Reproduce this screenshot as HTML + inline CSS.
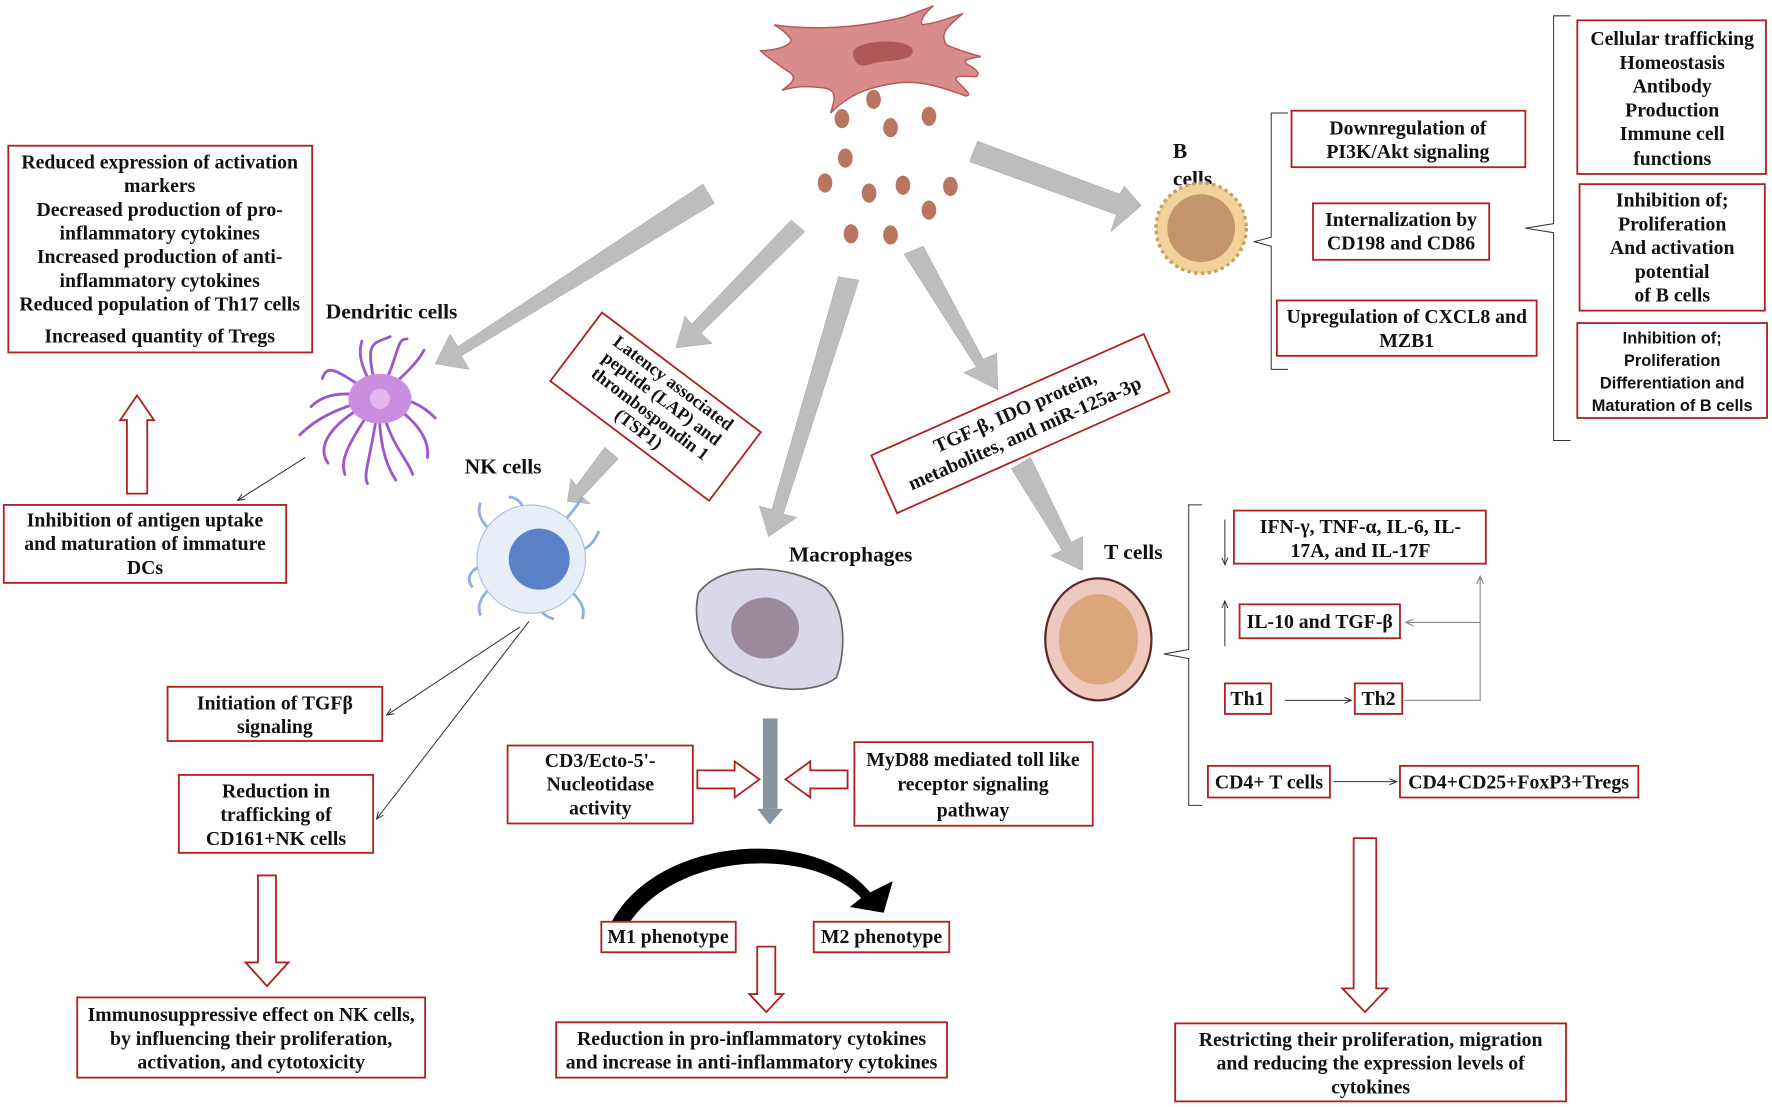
<!DOCTYPE html>
<html><head><meta charset="utf-8"><style>
html,body{margin:0;padding:0;background:#fff;}
svg{display:block;}
text{font-family:"Liberation Serif",serif;font-weight:bold;font-size:17.5px;fill:#111;}
.b{fill:#fff;stroke:#b02020;stroke-width:1.6;}
.g{fill:#bdbdbd;stroke:#aaa;stroke-width:0.5;}
.h{fill:#fff;stroke:#b02020;stroke-width:1.6;}
.t{stroke:#333;stroke-width:0.9;fill:none;}
.lbl{font-size:19px;}
.sm{font-size:16px;}
.sans{font-family:"Liberation Sans",sans-serif;font-size:14.5px;}
</style></head><body>
<svg width="1772" height="1107" viewBox="0 0 1568 980" xmlns="http://www.w3.org/2000/svg">
<defs>
<marker id="a" markerWidth="8" markerHeight="8" refX="7" refY="4" orient="auto"><path d="M0,1 L7,4 L0,7" fill="none" stroke="#333" stroke-width="1"/></marker>
<marker id="ag" markerWidth="8" markerHeight="8" refX="7" refY="4" orient="auto"><path d="M0,1 L7,4 L0,7" fill="none" stroke="#888" stroke-width="1"/></marker>
</defs>

<!-- fibroblast -->
<path d="M673,45 C690,44 700,40 700,35 C695,28 690,25 685,22 C720,27 760,25 800,15 C812,10 820,8 826,5 C818,12 814,18 816,22 C830,20 840,16 852,12 C840,22 830,30 838,40 C850,45 860,48 868,50 C855,52 850,54 858,58 C865,62 868,66 863,68 C850,67 840,66 850,75 C855,80 860,84 855,85 C835,78 815,70 790,74 C765,78 750,85 735,100 C738,90 742,80 730,78 C715,76 705,76 692,80 C700,74 705,70 700,65 C690,58 680,52 673,45 Z" fill="#d98c8c" stroke="#b85858" stroke-width="1.3"/>
<path d="M755,50 C752,40 770,36 790,37 C805,38 812,44 805,50 C795,55 780,53 770,57 C760,60 757,56 755,50 Z" fill="#b05858"/>
<g fill="#b87560">
<ellipse cx="773" cy="88" rx="6.5" ry="8.5"/><ellipse cx="745" cy="105" rx="6.5" ry="8.5"/><ellipse cx="788" cy="113" rx="6.5" ry="8.5"/><ellipse cx="822" cy="103" rx="6.5" ry="8.5"/>
<ellipse cx="748" cy="140" rx="6.5" ry="8.5"/><ellipse cx="730" cy="162" rx="6.5" ry="8.5"/><ellipse cx="769" cy="171" rx="6.5" ry="8.5"/><ellipse cx="799" cy="164" rx="6.5" ry="8.5"/><ellipse cx="841" cy="165" rx="6.5" ry="8.5"/><ellipse cx="822" cy="186" rx="6.5" ry="8.5"/><ellipse cx="753" cy="207" rx="6.5" ry="8.5"/><ellipse cx="788" cy="208" rx="6.5" ry="8.5"/>
</g>

<!-- gray arrows -->
<g class="g">
<path d="M622,163 L632,180 L408,315 L415,327 L385,322 L398,296 L405,307 Z"/>
<path d="M700,195 L712,205 L620,295 L630,304 L598,308 L606,280 L612,287 Z"/>
<path d="M742,245 L760,248 L693,455 L705,458 L680,475 L672,448 L683,451 Z"/>
<path d="M800,225 L817,218 L870,318 L882,313 L883,345 L853,330 L864,325 Z"/>
<path d="M865,125 L858,143 L988,190 L983,205 L1010,182 L995,165 L991,172 Z"/>
<path d="M535,396 L547,406 L515,440 L522,446 L502,444 L505,424 L510,430 Z"/>
<path d="M895,415 L912,405 L948,480 L958,475 L958,505 L930,492 L940,487 Z"/>
</g>

<!-- top left box -->
<rect class="b" x="7" y="129" width="269" height="183"/>
<g text-anchor="middle">
<text x="141" y="149">Reduced expression of activation</text>
<text x="141" y="170">markers</text>
<text x="141" y="191">Decreased production of pro-</text>
<text x="141" y="212">inflammatory cytokines</text>
<text x="141" y="233">Increased production of anti-</text>
<text x="141" y="254">inflammatory cytokines</text>
<text x="141" y="275">Reduced population of Th17 cells</text>
<text x="141" y="303">Increased quantity of Tregs</text>
</g>
<text class="lbl" x="288" y="282">Dendritic cells</text>
<path class="h" d="M112,437 L112,372 L106,372 L121,350 L136,372 L130,372 L130,437 Z"/>
<rect class="b" x="3" y="447" width="250" height="69"/>
<g text-anchor="middle"><text x="128" y="466">Inhibition of antigen uptake</text><text x="128" y="487">and maturation of immature</text><text x="128" y="508">DCs</text></g>
<line class="t" x1="270" y1="405" x2="210" y2="443" marker-end="url(#a)"/>

<!-- dendritic cell -->
<g stroke="#9a58c8" stroke-width="2.5" fill="none" stroke-linecap="round">
<path d="M335,352 C320,300 330,305 345,298"/><path d="M335,352 C360,330 370,320 375,310"/><path d="M335,352 C300,360 280,370 265,385"/><path d="M335,352 C310,390 300,405 305,420"/><path d="M335,352 C335,390 340,410 350,425"/><path d="M335,352 C370,370 380,390 378,405"/><path d="M335,352 C300,330 290,320 285,335"/><path d="M335,352 C330,400 320,420 325,428"/><path d="M335,352 C355,310 350,300 360,300"/><path d="M335,352 C290,375 280,395 290,410"/>
<path d="M335,352 C300,345 285,350 275,360"/><path d="M335,352 C345,395 360,405 365,420"/><path d="M335,352 C360,350 375,360 385,370"/><path d="M335,352 C315,320 318,310 320,302"/>
</g>
<ellipse cx="336" cy="353" rx="28" ry="22" fill="#c98ee0"/>
<circle cx="336" cy="353" r="9" fill="#e2b6f2"/>

<!-- LAP rotated box -->
<g transform="translate(580,360) rotate(37)">
<rect class="b" x="-88" y="-38" width="176" height="76"/>
<g text-anchor="middle" class="sm"><text class="sm" x="0" y="-21">Latency associated</text><text class="sm" x="0" y="-4">peptide (LAP) and</text><text class="sm" x="0" y="13">thrombospondin 1</text><text class="sm" x="0" y="30">(TSP1)</text></g>
</g>
<!-- TGF rotated box -->
<g transform="translate(903,375) rotate(-24)">
<rect class="b" x="-132" y="-28" width="264" height="56"/>
<g text-anchor="middle"><text x="0" y="-6">TGF-β, IDO protein,</text><text x="0" y="15">metabolites, and miR-125a-3p</text></g>
</g>

<!-- NK -->
<text class="lbl" x="411" y="419">NK cells</text>
<g stroke="#8fb0d8" stroke-width="2.5" fill="none">
<path d="M470,495 C430,470 420,460 425,445"/><path d="M470,495 C500,460 510,450 515,440"/><path d="M470,495 C430,520 420,530 425,545"/><path d="M470,495 C510,525 520,535 515,548"/><path d="M470,495 C470,450 460,440 450,440"/><path d="M470,495 C520,495 525,480 530,470"/><path d="M470,495 C415,495 410,510 418,520"/><path d="M470,495 C470,540 480,545 490,548"/>
</g>
<circle cx="470" cy="495" r="48" fill="#e8eef8" stroke="#a8c0e0"/>
<circle cx="477" cy="495" r="27" fill="#5a80c8"/>
<line class="t" x1="460" y1="555" x2="342" y2="633" marker-end="url(#a)"/>
<line class="t" x1="468" y1="550" x2="333" y2="725" marker-end="url(#a)"/>
<rect class="b" x="148" y="608" width="190" height="48"/>
<g text-anchor="middle"><text x="243" y="628">Initiation of  TGFβ</text><text x="243" y="649">signaling</text></g>
<rect class="b" x="158" y="686" width="172" height="69"/>
<g text-anchor="middle"><text x="244" y="706">Reduction in</text><text x="244" y="727">trafficking of</text><text x="244" y="748">CD161+NK cells</text></g>
<path class="h" d="M228,775 L228,852 L217,852 L236,873 L255,852 L244,852 L244,775 Z"/>
<rect class="b" x="68" y="883" width="308" height="71"/>
<g text-anchor="middle"><text x="222" y="904">Immunosuppressive effect on NK cells,</text><text x="222" y="925">by influencing their proliferation,</text><text x="222" y="946">activation, and cytotoxicity</text></g>

<!-- macrophage -->
<text class="lbl" x="698" y="497">Macrophages</text>
<path d="M618,525 C640,495 700,500 730,520 C750,540 748,580 740,600 C720,615 680,612 660,600 C630,590 610,560 618,525 Z" fill="#d8d8e8" stroke="#666" stroke-width="1.5"/>
<ellipse cx="677" cy="556" rx="30" ry="27" fill="#9a8a9a"/>
<rect x="675" y="636" width="13" height="80" fill="#8a94a0"/>
<path d="M670,716 L693,716 L681,730 Z" fill="#8a94a0"/>
<path class="h" d="M617,682 L650,682 L650,674 L672,690 L650,706 L650,698 L617,698 Z"/>
<path class="h" d="M750,682 L717,682 L717,674 L695,690 L717,706 L717,698 L750,698 Z"/>
<rect class="b" x="449" y="660" width="164" height="69"/>
<g text-anchor="middle"><text x="531" y="679">CD3/Ecto-5'-</text><text x="531" y="700">Nucleotidase</text><text x="531" y="721">activity</text></g>
<rect class="b" x="756" y="657" width="211" height="74"/>
<g text-anchor="middle"><text x="861" y="678">MyD88 mediated toll like</text><text x="861" y="700">receptor signaling</text><text x="861" y="723">pathway</text></g>
<path d="M540,818 C580,740 720,730 770,790 L790,780 L782,808 L752,803 L762,795 C720,750 600,752 556,818 Z" fill="#000"/>
<rect class="b" x="532" y="816" width="119" height="27"/><text x="591" y="835" text-anchor="middle">M1 phenotype</text>
<rect class="b" x="720" y="816" width="120" height="27"/><text x="780" y="835" text-anchor="middle">M2 phenotype</text>
<path class="h" d="M670,838 L670,880 L663,880 L678,896 L693,880 L686,880 L686,838 Z"/>
<rect class="b" x="492" y="905" width="346" height="49"/>
<g text-anchor="middle"><text x="665" y="925">Reduction in pro-inflammatory cytokines</text><text x="665" y="946">and increase in anti-inflammatory cytokines</text></g>

<!-- B cells -->
<text class="lbl" x="1038" y="140">B</text><text class="lbl" x="1038" y="164">cells</text>
<circle cx="1063" cy="202" r="40" fill="#f2d29a" stroke="#c8a060" stroke-width="3" stroke-dasharray="3 3"/>
<circle cx="1063" cy="202" r="30" fill="#c4956a"/>
<path class="t" d="M1140,100 L1125,100 L1125,210 L1110,214 L1125,218 L1125,327 L1140,327" stroke-width="1.5"/>
<rect class="b" x="1143" y="98" width="207" height="50"/>
<g text-anchor="middle"><text x="1246" y="119">Downregulation of</text><text x="1246" y="140">PI3K/Akt signaling</text></g>
<rect class="b" x="1162" y="180" width="156" height="50"/>
<g text-anchor="middle"><text x="1240" y="200">Internalization by</text><text x="1240" y="221">CD198 and CD86</text></g>
<rect class="b" x="1130" y="266" width="230" height="49"/>
<g text-anchor="middle"><text x="1245" y="286">Upregulation of CXCL8 and</text><text x="1245" y="307">MZB1</text></g>
<path class="t" d="M1390,14 L1375,14 L1375,198 L1350,202 L1375,206 L1375,390 L1390,390" stroke-width="1.5"/>
<rect class="b" x="1396" y="18" width="167" height="136"/>
<g text-anchor="middle"><text x="1480" y="40">Cellular trafficking</text><text x="1480" y="61">Homeostasis</text><text x="1480" y="82">Antibody</text><text x="1480" y="103">Production</text><text x="1480" y="124">Immune cell</text><text x="1480" y="146">functions</text></g>
<rect class="b" x="1398" y="163" width="164" height="112"/>
<g text-anchor="middle"><text x="1480" y="183">Inhibition of;</text><text x="1480" y="204">Proliferation</text><text x="1480" y="225">And activation</text><text x="1480" y="246">potential</text><text x="1480" y="267">of B cells</text></g>
<rect class="b" x="1396" y="286" width="168" height="84"/>
<g text-anchor="middle"><text class="sans" x="1480" y="304">Inhibition of;</text><text class="sans" x="1480" y="324">Proliferation</text><text class="sans" x="1480" y="344">Differentiation and</text><text class="sans" x="1480" y="364">Maturation of B cells</text></g>

<!-- T cells -->
<text class="lbl" x="977" y="495">T cells</text>
<ellipse cx="972" cy="566" rx="47" ry="54" fill="#efc8c0" stroke="#5a2a2a" stroke-width="2"/>
<ellipse cx="972" cy="566" rx="35" ry="40" fill="#dba67a"/>
<path class="t" d="M1064,447 L1052,447 L1052,575 L1030,579 L1052,583 L1052,713 L1064,713" stroke-width="1.5"/>
<line class="t" x1="1084" y1="460" x2="1084" y2="500" marker-end="url(#a)"/>
<line class="t" x1="1084" y1="572" x2="1084" y2="532" marker-end="url(#a)"/>
<rect class="b" x="1092" y="452" width="223" height="47"/>
<g text-anchor="middle"><text x="1204" y="472">IFN-γ, TNF-α, IL-6, IL-</text><text x="1204" y="493">17A, and IL-17F</text></g>
<rect class="b" x="1097" y="535" width="142" height="30"/><text x="1168" y="556" text-anchor="middle">IL-10 and TGF-β</text>
<rect class="b" x="1084" y="605" width="41" height="27"/><text x="1104" y="624" text-anchor="middle">Th1</text>
<rect class="b" x="1199" y="605" width="42" height="27"/><text x="1220" y="624" text-anchor="middle">Th2</text>
<line class="t" x1="1137" y1="620" x2="1196" y2="620" marker-end="url(#a)"/>
<path d="M1243,620 L1310,620 L1310,510" fill="none" stroke="#888" stroke-width="1" marker-end="url(#ag)"/>
<line x1="1310" y1="551" x2="1244" y2="551" stroke="#888" stroke-width="1" marker-end="url(#ag)"/>
<rect class="b" x="1069" y="678" width="108" height="28"/><text x="1123" y="698" text-anchor="middle">CD4+ T cells</text>
<rect class="b" x="1239" y="678" width="211" height="28"/><text x="1344" y="698" text-anchor="middle">CD4+CD25+FoxP3+Tregs</text>
<line class="t" x1="1180" y1="692" x2="1236" y2="692" marker-end="url(#a)"/>
<path class="h" d="M1198,742 L1198,875 L1188,875 L1208,896 L1228,875 L1218,875 L1218,742 Z"/>
<rect class="b" x="1040" y="906" width="346" height="69"/>
<g text-anchor="middle"><text x="1213" y="926">Restricting their proliferation, migration</text><text x="1213" y="947">and reducing the expression levels of</text><text x="1213" y="968">cytokines</text></g>
</svg>
</body></html>
